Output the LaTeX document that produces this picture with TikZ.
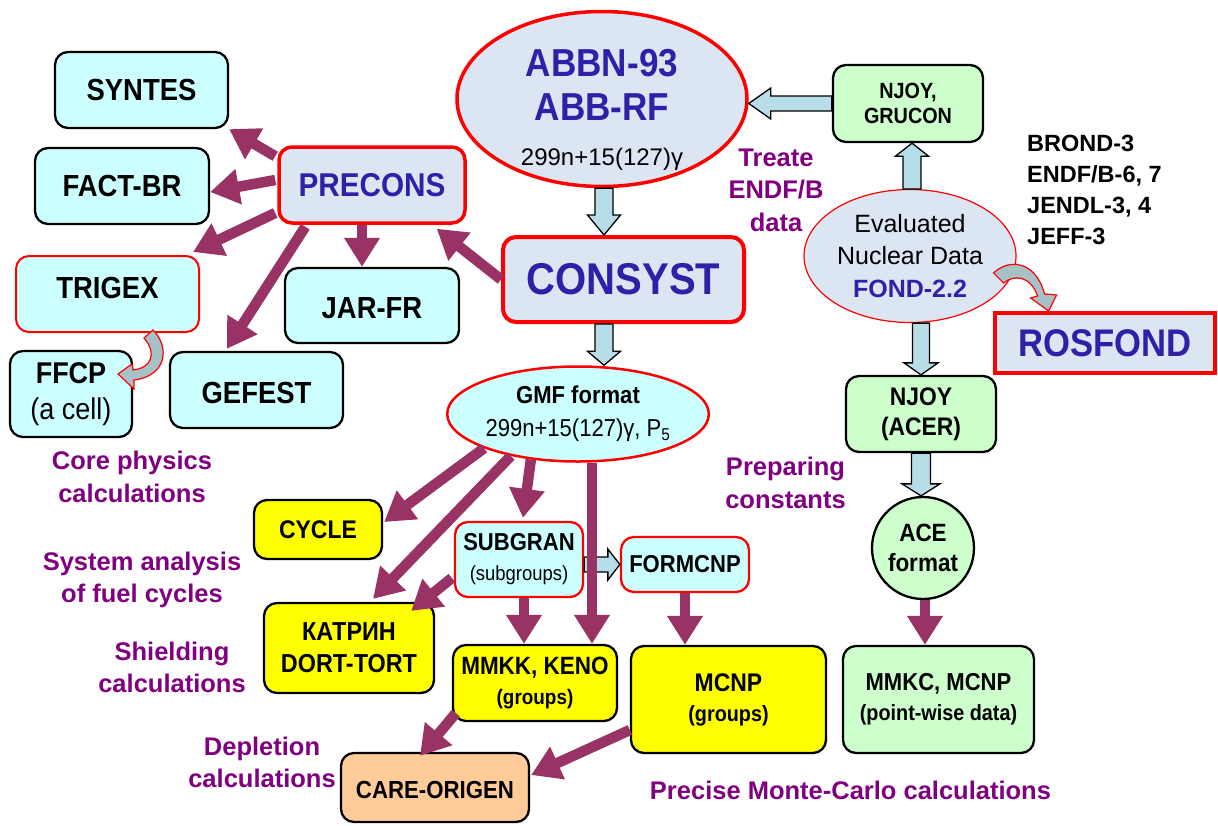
\documentclass[tikz,border=0pt]{standalone}
\usepackage{fontspec}
\setmainfont{Liberation Sans}[FakeStretch=0.9]
\newfontfamily\lab{Liberation Sans}
\usetikzlibrary{shapes.geometric,arrows.meta,calc}
\definecolor{cyancol}{HTML}{CCFFFF}
\definecolor{greycol}{HTML}{DCE6F2}
\definecolor{greencol}{HTML}{CCFFCC}
\definecolor{yellowcol}{HTML}{FFFF00}
\definecolor{peachcol}{HTML}{FFCC99}
\definecolor{textblue}{HTML}{3020A8}
\definecolor{labelpurple}{HTML}{800080}
\definecolor{arrowmaroon}{HTML}{993366}
\definecolor{blockcol}{HTML}{B7DEE8}
\definecolor{curvecol}{HTML}{A6C2C7}
\definecolor{boxred}{HTML}{FF0000}
\tikzset{
  basebox/.style={rectangle, rounded corners=13pt, inner sep=0pt, align=center, line width=2.3pt},
  cyanblack/.style={basebox, draw=black, fill=cyancol},
  cyanred/.style={basebox, draw=boxred, fill=cyancol},
  greyred/.style={basebox, draw=boxred, fill=greycol, line width=3.5pt, text=textblue},
  yellowbx/.style={basebox, draw=black, fill=yellowcol},
  greenbx/.style={basebox, draw=black, fill=greencol},
  peachbx/.style={basebox, draw=black, fill=peachcol},
  plabel/.style={align=center, inner sep=0pt, text=labelpurple, font={\lab\bfseries\fontsize{25.5}{32.5}\selectfont}},
  parr/.style={draw=arrowmaroon, line width=10.5pt, -{Triangle[width=34pt,length=29pt]}},
  blockarr/.style={fill=blockcol, draw=black, line width=1.3pt, line join=miter},
  curvearr/.style={fill=curvecol, draw=boxred, line width=1.2pt}
}
% #1 from, #2 to, #3 half shaft width, #4 half head width, #5 head length
\newcommand\blkarrow[5]{%
  \coordinate (ba-c) at ($(#2)!#5!(#1)$);
  \draw[blockarr] ($(#1)!#3!90:(#2)$) -- ($(ba-c)!#3!-90:(#1)$) -- ($(ba-c)!#4!-90:(#1)$) -- (#2)
     -- ($(ba-c)!#4!90:(#1)$) -- ($(ba-c)!#3!90:(#1)$) -- ($(#1)!#3!-90:(#2)$) -- cycle;}
\newcommand\shiftup[2]{\raisebox{#1}[\height][\depth]{#2}}
\begin{document}
\begin{tikzpicture}[x=1pt,y=-1pt]
\useasboundingbox (0,0) rectangle (1218,825);
\fill[white] (0,0) rectangle (1218,825);

% ---------- left group ----------
\node[cyanblack, minimum width=173pt, minimum height=76pt, font={\bfseries\fontsize{30.5}{36}\selectfont}] (syntes) at (141.5,90) {SYNTES};
\node[cyanblack, minimum width=174pt, minimum height=76pt, font={\bfseries\fontsize{30.5}{36}\selectfont}] (factbr) at (122,186) {FACT-BR};
\node[greyred, minimum width=186pt, minimum height=76pt, font={\bfseries\fontsize{33}{40}\selectfont}] (precons) at (372,185) {PRECONS};
\node[cyanred, line width=2pt, minimum width=183pt, minimum height=76pt, font={\bfseries\fontsize{30.5}{36}\selectfont}] (trigex) at (107.5,294) {\shiftup{6pt}{TRIGEX}};
\node[cyanblack, minimum width=174pt, minimum height=75pt, font={\bfseries\fontsize{30.5}{36}\selectfont}] (jarfr) at (372,305.5) {\shiftup{-3pt}{JAR-FR}};
\node[cyanblack, minimum width=173pt, minimum height=76pt, font={\bfseries\fontsize{30.5}{36}\selectfont}] (gefest) at (256.5,390) {\shiftup{-3pt}{GEFEST}};
\node[cyanblack, minimum width=122pt, minimum height=86pt, font={\fontsize{30}{36}\selectfont}] (ffcp) at (71,394) {{\bfseries FFCP}\\(a cell)};

% ---------- centre ----------
\node[ellipse, draw=boxred, line width=3.5pt, fill=greycol, minimum width=290pt, minimum height=175pt, inner sep=0pt] (abbn) at (602,99) {};
\node[align=center, inner sep=0pt, font={\bfseries\fontsize{39}{44.5}\selectfont}] (abbntext) at (602,109.5)
  {\textcolor{textblue}{ABBN-93}\\\textcolor{textblue}{ABB-RF}\\{\lab\mdseries\fontsize{24}{44.5}\selectfont 299n+15(127)γ}};
\node[greyred, line width=4pt, minimum width=241pt, minimum height=85pt, font={\bfseries\fontsize{44.5}{50}\selectfont}] (consyst) at (623.5,279.5) {CONSYST};
\node[ellipse, draw=boxred, line width=2.5pt, fill=cyancol, minimum width=251pt, minimum height=95pt, inner sep=0pt, align=center, font={\fontsize{24.5}{33}\selectfont}] (gmf) at (578,414)
  {{\bfseries GMF format}\\299n+15(127)γ, P\textsubscript{5}};

% ---------- right group ----------
\node[greenbx, minimum width=150pt, minimum height=77pt, font={\bfseries\fontsize{22}{25}\selectfont}] (njoyg) at (908,103.5) {NJOY,\\GRUCON};
\node[ellipse, draw=boxred, line width=1.2pt, fill=greycol, minimum width=212pt, minimum height=133pt, inner sep=0pt, align=center, font={\lab\fontsize{25}{32.5}\selectfont}] (evalnd) at (910,256)
  {Evaluated\\Nuclear Data\\{\bfseries\color{textblue}FOND-2.2}};
\node[anchor=west, align=left, inner sep=0pt, font={\lab\bfseries\fontsize{23.5}{31}\selectfont}] (libs) at (1027,190)
  {BROND-3\\ENDF/B-6, 7\\JENDL-3, 4\\JEFF-3};
\node[rectangle, draw=boxred, line width=4pt, fill=greycol, minimum width=220pt, minimum height=60pt, inner sep=0pt, text=textblue, font={\bfseries\fontsize{38.5}{44}\selectfont}] (rosfond) at (1105,343) {ROSFOND};
\node[greenbx, minimum width=150pt, minimum height=76pt, font={\bfseries\fontsize{25.4}{30}\selectfont}] (njoya) at (921,414) {NJOY\\(ACER)};
\node[circle, draw=black, line width=2.3pt, fill=greencol, minimum size=102pt, inner sep=0pt, align=center, font={\bfseries\fontsize{25}{30}\selectfont}] (ace) at (923,548) {ACE\\format};
\node[greenbx, minimum width=191pt, minimum height=107pt, font={\bfseries\fontsize{24.5}{30}\selectfont}] (mmkc) at (938.5,699.5)
  {MMKC, MCNP\\{\fontsize{22}{30}\selectfont (point-wise data)}};

% ---------- lower group ----------
\node[yellowbx, minimum width=128pt, minimum height=59pt, font={\bfseries\fontsize{25.5}{30}\selectfont}] (cycle) at (318,529.5) {CYCLE};
\node[cyanred, minimum width=128pt, minimum height=75pt, font={\fontsize{24.5}{30}\selectfont}] (subgran) at (519,559.5)
  {{\bfseries SUBGRAN}\\{\fontsize{20.5}{30}\selectfont (subgroups)}};
\node[cyanred, minimum width=128pt, minimum height=55pt, font={\bfseries\fontsize{24.5}{30}\selectfont}] (formcnp) at (685,564.5) {FORMCNP};
\node[yellowbx, minimum width=170pt, minimum height=90pt, font={\bfseries\fontsize{26}{32}\selectfont}] (katrin) at (349,648) {КАТРИН\\DORT-TORT};
\node[yellowbx, minimum width=164pt, minimum height=76pt, font={\bfseries\fontsize{25}{30}\selectfont}] (mmkk) at (535,683)
  {MMKK, KENO\\{\fontsize{21}{30}\selectfont (groups)}};
\node[yellowbx, minimum width=195pt, minimum height=107pt, font={\bfseries\fontsize{25.5}{30}\selectfont}] (mcnp) at (728.5,699.5)
  {MCNP\\{\fontsize{22}{30}\selectfont (groups)}};
\node[peachbx, minimum width=188pt, minimum height=69pt, font={\bfseries\fontsize{24.7}{30}\selectfont}] (care) at (435,787.5) {\shiftup{-2pt}{CARE-ORIGEN}};

% ---------- purple labels ----------
\node[plabel] (lbltreate) at (776,190) {Treate\\ENDF/B\\data};
\node[plabel] (lblcore) at (132,477) {Core physics\\calculations};
\node[plabel] (lblsystem) at (142,580) {System analysis\\of fuel cycles};
\node[plabel] (lblshield) at (172,667.5) {Shielding\\calculations};
\node[plabel] (lbldepl) at (262,762.5) {Depletion\\calculations};
\node[plabel] (lblprep) at (785.5,483) {Preparing\\constants};
\node[plabel] (lblprecise) at (850.5,790) {Precise Monte-Carlo calculations};

% ---------- block arrows ----------
\coordinate (b1s) at (njoyg.west);
\coordinate (b1e) at (abbn.east |- njoyg.west);
\blkarrow{b1s}{b1e}{7.5pt}{15.5pt}{22pt}
\coordinate (b2s) at ([xshift=2pt]evalnd.north);
\coordinate (b2e) at (b2s |- njoyg.south);
\blkarrow{b2s}{b2e}{9pt}{16.5pt}{13pt}
\coordinate (b3s) at ([xshift=2pt]abbn.south);
\coordinate (b3e) at (b3s |- consyst.north);
\blkarrow{b3s}{b3e}{9pt}{16.5pt}{20pt}
\coordinate (b4s) at ([xshift=-19.5pt]consyst.south);
\coordinate (b4e) at (b4s |- gmf.north);
\blkarrow{b4s}{b4e}{9pt}{16.5pt}{14pt}
\coordinate (b5s) at (njoya.north |- evalnd.south);
\coordinate (b5e) at (njoya.north);
\blkarrow{b5s}{b5e}{8.5pt}{17pt}{12pt}
\coordinate (b6s) at (njoya.south);
\coordinate (b6e) at (njoya.south |- ace.north);
\blkarrow{b6s}{b6e}{9.5pt}{19pt}{12pt}
\coordinate (b7s) at (subgran.east |- formcnp.west);
\coordinate (b7e) at (formcnp.west);
\blkarrow{b7s}{b7e}{7.5pt}{15.5pt}{12pt}

% ---------- purple arrows ----------
\draw[parr] ([shift={(-2,11)}]precons.north west) -- (syntes.south east);
\draw[parr] ([shift={(-2,-5)}]precons.west) -- ([shift={(0,6)}]factbr.east);
\draw[parr] ([shift={(-2,28)}]precons.west) -- ([shift={(-7,-3)}]trigex.north east);
\draw[parr] ([shift={(28,2)}]precons.south west) -- ([shift={(58,-2)}]gefest.north west);
\draw[parr] ([shift={(-10,0)}]precons.south) -- ([shift={(-10,0)}]precons.south |- jarfr.north);
\draw[parr] (consyst.west) -- ([shift={(-30,4)}]precons.south east);
\draw[parr] (gmf.200) -- ([shift={(1,-7.5)}]cycle.east);
\draw[parr] (gmf.212) -- ([shift={(24,-3)}]katrin.north);
\draw[parr] ([shift={(-2,18.5)}]subgran.west) -- ([shift={(-24,9)}]katrin.north east);
\draw[parr] (gmf.224) -- ([shift={(4,-3)}]subgran.north);
\draw[parr] ([xshift=14pt]gmf.south) -- ([xshift=14pt]gmf.south |- mmkk.north);
\draw[parr] ([xshift=5pt]subgran.south) -- ([xshift=5pt]subgran.south |- mmkk.north);
\draw[parr] (formcnp.south) -- (formcnp.south |- mcnp.north);
\draw[parr] ([shift={(4,-9)}]mmkk.south west) -- ([shift={(-15,4)}]care.north);
\draw[parr] ([shift={(0,30.5)}]mcnp.west) -- ([shift={(1,-12.5)}]care.east);
\draw[parr] ([xshift=2pt]ace.south) -- ([xshift=2pt]ace.south |- mmkc.north);

% ---------- curved arrows ----------
\begin{scope}[shift={(trigex.south east)}]
\draw[curvearr] (-56,5) -- (-47,-3) .. controls (-30,14) and (-33,43) .. (-66,47)
  -- (-66,56) -- (-82,41) -- (-68,31) -- (-67,37)
  .. controls (-48,35) and (-43,20) .. (-56,5) -- cycle;
\end{scope}
\begin{scope}[shift={(evalnd.east)}]
\draw[curvearr] (-23,17) .. controls (-10,4) and (18,2) .. (28,38)
  -- (40,39) -- (32,55) -- (14,42) -- (21,40)
  .. controls (14,20) and (-2,18) .. (-13,27) -- cycle;
\end{scope}
\end{tikzpicture}
\end{document}
